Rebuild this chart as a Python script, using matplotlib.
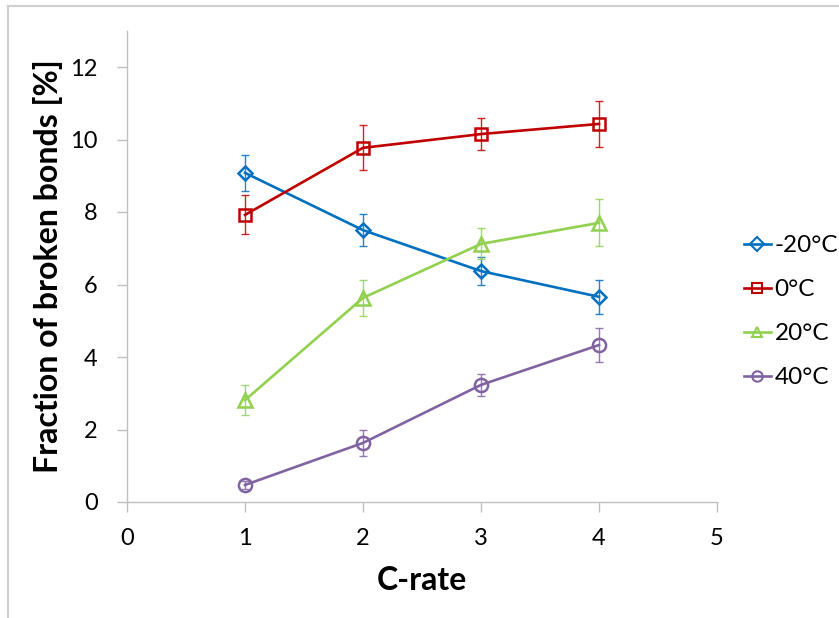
import matplotlib
matplotlib.use("Agg")
import matplotlib.pyplot as plt
from matplotlib.lines import Line2D

plt.rcParams['font.family'] = ['Lato', 'DejaVu Sans']

c_rate = [1, 2, 3, 4]
labels = ["-20°C", "0°C", "20°C", "40°C"]
vals_m20 = [9.08, 7.50, 6.37, 5.66]
err_m20 = [0.50, 0.44, 0.38, 0.47]
vals_0 = [7.92, 9.77, 10.15, 10.43]
err_0 = [0.54, 0.62, 0.45, 0.63]
vals_20 = [2.81, 5.63, 7.12, 7.70]
err_20 = [0.42, 0.50, 0.43, 0.65]
vals_40 = [0.47, 1.63, 3.23, 4.33]
err_40 = [0.12, 0.37, 0.30, 0.47]

colors = ["#0070C0", "#C00000", "#92D050", "#8064A2"]
markers = ["D", "s", "^", "o"]
msizes = [7.5, 9, 9.5, 9.5]

W, H = 839, 618
fig = plt.figure(figsize=(W / 100, H / 100), dpi=100)

# chart area border (clipped at right/bottom)
fig.add_artist(Line2D([8 / W, 8 / W], [1 - 6 / H, 0], transform=fig.transFigure,
                      color="#CFCFCF", lw=1.5))
fig.add_artist(Line2D([8 / W, 1], [1 - 6 / H, 1 - 6 / H], transform=fig.transFigure,
                      color="#CFCFCF", lw=1.5))

x0, x1 = 127, 717
y0, y1 = 502, 30.75
ax = fig.add_axes([x0 / W, 1 - y0 / H, (x1 - x0) / W, (y0 - y1) / H])

series = [(vals_m20, err_m20), (vals_0, err_0), (vals_20, err_20), (vals_40, err_40)]
handles = []
for (v, e), c, m, ms, lab in zip(series, colors, markers, msizes, labels):
    ax.errorbar(c_rate, v, yerr=e, fmt="none", ecolor=c, elinewidth=1.0,
                capsize=3, capthick=1.0, alpha=0.85, zorder=3)
    ln, = ax.plot(c_rate, v, color=c, lw=1.9, marker=m, markersize=ms,
                  markerfacecolor="none", markeredgecolor=c, markeredgewidth=1.8,
                  label=lab, zorder=4)
    handles.append(ln)

ax.set_xlim(0, 5)
ax.set_ylim(0, 13)
ax.set_xticks([0, 1, 2, 3, 4, 5])
ax.set_yticks([0, 2, 4, 6, 8, 10, 12])
for s in ["top", "right"]:
    ax.spines[s].set_visible(False)
for s in ["left", "bottom"]:
    ax.spines[s].set_color("#BFBFBF")
    ax.spines[s].set_linewidth(1.0)
ax.tick_params(axis="both", direction="out", length=7, width=1.0, color="#BFBFBF",
               labelsize=17, labelcolor="black")
ax.tick_params(axis="x", pad=12)
ax.tick_params(axis="y", pad=14)

ax.set_xlabel("C-rate", fontsize=23, fontweight="bold", labelpad=12)
ax.set_ylabel("Fraction of broken bonds [%]", fontsize=23, fontweight="bold", labelpad=5)

leg = fig.legend(handles=handles, loc="upper left", bbox_to_anchor=(744 / W, 1 - 235 / H),
                 frameon=False, fontsize=17.5, handlelength=1.1, handletextpad=0.15,
                 labelspacing=0.95, borderaxespad=0, borderpad=0)
for h in leg.legend_handles:
    h.set_markersize(7.5)
    h.set_markeredgewidth(1.5)

fig.savefig("out.png", dpi=100)
